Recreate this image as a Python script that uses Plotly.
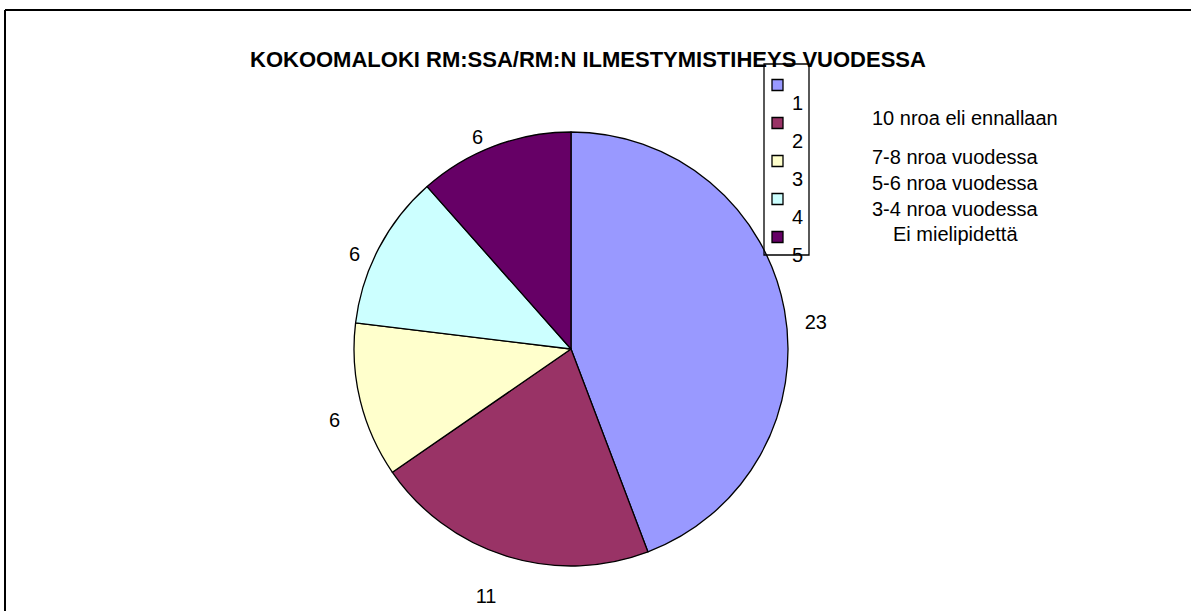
import plotly.graph_objects as go

# data
categories = ["1", "2", "3", "4", "5"]
values = [23, 11, 6, 6, 6]
colors = ["#9999FF", "#993366", "#FFFFCC", "#CCFFFF", "#660066"]
descriptions = [
    "10 nroa eli ennallaan",
    "7-8 nroa vuodessa",
    "5-6 nroa vuodessa",
    "3-4 nroa vuodessa",
    "Ei mielipidettä",
]
title_text = "KOKOOMALOKI RM:SSA/RM:N ILMESTYMISTIHEYS VUODESSA"

W, H = 1191, 611
FONT = "Liberation Sans, Arial, sans-serif"


def px(x):
    return x / W


def py(y):
    return 1 - y / H


fig = go.Figure()
# transparent, slightly larger copy: only carries the value labels a bit further out
fig.add_trace(go.Pie(
    labels=categories,
    values=values,
    sort=False,
    direction="clockwise",
    rotation=0,
    marker=dict(colors=["rgba(0,0,0,0)"] * len(values), line=dict(width=0)),
    textinfo="value",
    textposition="outside",
    textfont=dict(family=FONT, size=20, color="black"),
    domain=dict(x=[px(571 - 232), px(571 + 232)], y=[py(364 + 232), py(364 - 232)]),
    showlegend=False,
    hoverinfo="skip",
))
fig.add_trace(go.Pie(
    labels=categories,
    values=values,
    sort=False,
    direction="clockwise",
    rotation=0,
    marker=dict(colors=colors, line=dict(color="black", width=1.3)),
    textinfo="none",
    domain=dict(x=[px(571 - 217), px(571 + 217)], y=[py(566), py(132)]),
    showlegend=False,
    hoverinfo="label+value+percent",
))

shapes = [
    # chart frame (top and left edges visible)
    dict(type="line", xref="paper", yref="paper", x0=px(5), x1=1.01, y0=py(10), y1=py(10),
         line=dict(color="black", width=2)),
    dict(type="line", xref="paper", yref="paper", x0=px(5), x1=px(5), y0=py(10), y1=-0.01,
         line=dict(color="black", width=2)),
    # legend box
    dict(type="rect", xref="paper", yref="paper", x0=px(764), x1=px(809), y0=py(255), y1=py(64),
         line=dict(color="black", width=1.3), fillcolor="rgba(0,0,0,0)"),
]
annotations = [
    dict(text=f"<b>{title_text}</b>", x=px(588), y=py(60), xref="paper", yref="paper",
         showarrow=False, xanchor="center", yanchor="middle",
         font=dict(family=FONT, size=22, color="black")),
]
for i, (cat, col) in enumerate(zip(categories, colors)):
    yc = 85 + 38 * i
    shapes.append(dict(type="rect", xref="paper", yref="paper",
                       x0=px(772), x1=px(783), y0=py(yc + 5.5), y1=py(yc - 5.5),
                       fillcolor=col, line=dict(color="black", width=1.3)))
    annotations.append(dict(text=cat, x=px(797), y=py(yc + 18), xref="paper", yref="paper",
                            showarrow=False, xanchor="center", yanchor="middle",
                            font=dict(family=FONT, size=20, color="black")))

desc_y = [118, 157, 183, 209, 234]
desc_x = [870, 870, 870, 870, 891]
for txt, xx, yy in zip(descriptions, desc_x, desc_y):
    annotations.append(dict(text=txt, x=px(xx), y=py(yy), xref="paper", yref="paper",
                            showarrow=False, xanchor="left", yanchor="middle",
                            font=dict(family=FONT, size=20, color="black")))

fig.update_layout(
    width=W,
    height=H,
    margin=dict(l=0, r=0, t=0, b=0),
    paper_bgcolor="white",
    plot_bgcolor="white",
    font=dict(family=FONT, color="black"),
    shapes=shapes,
    annotations=annotations,
    showlegend=False,
)

# drop the default page margin so the figure sits at the window's top-left corner
fig.write_html("out.html", config={"displayModeBar": False},
               post_script="document.body.style.margin='0';")
